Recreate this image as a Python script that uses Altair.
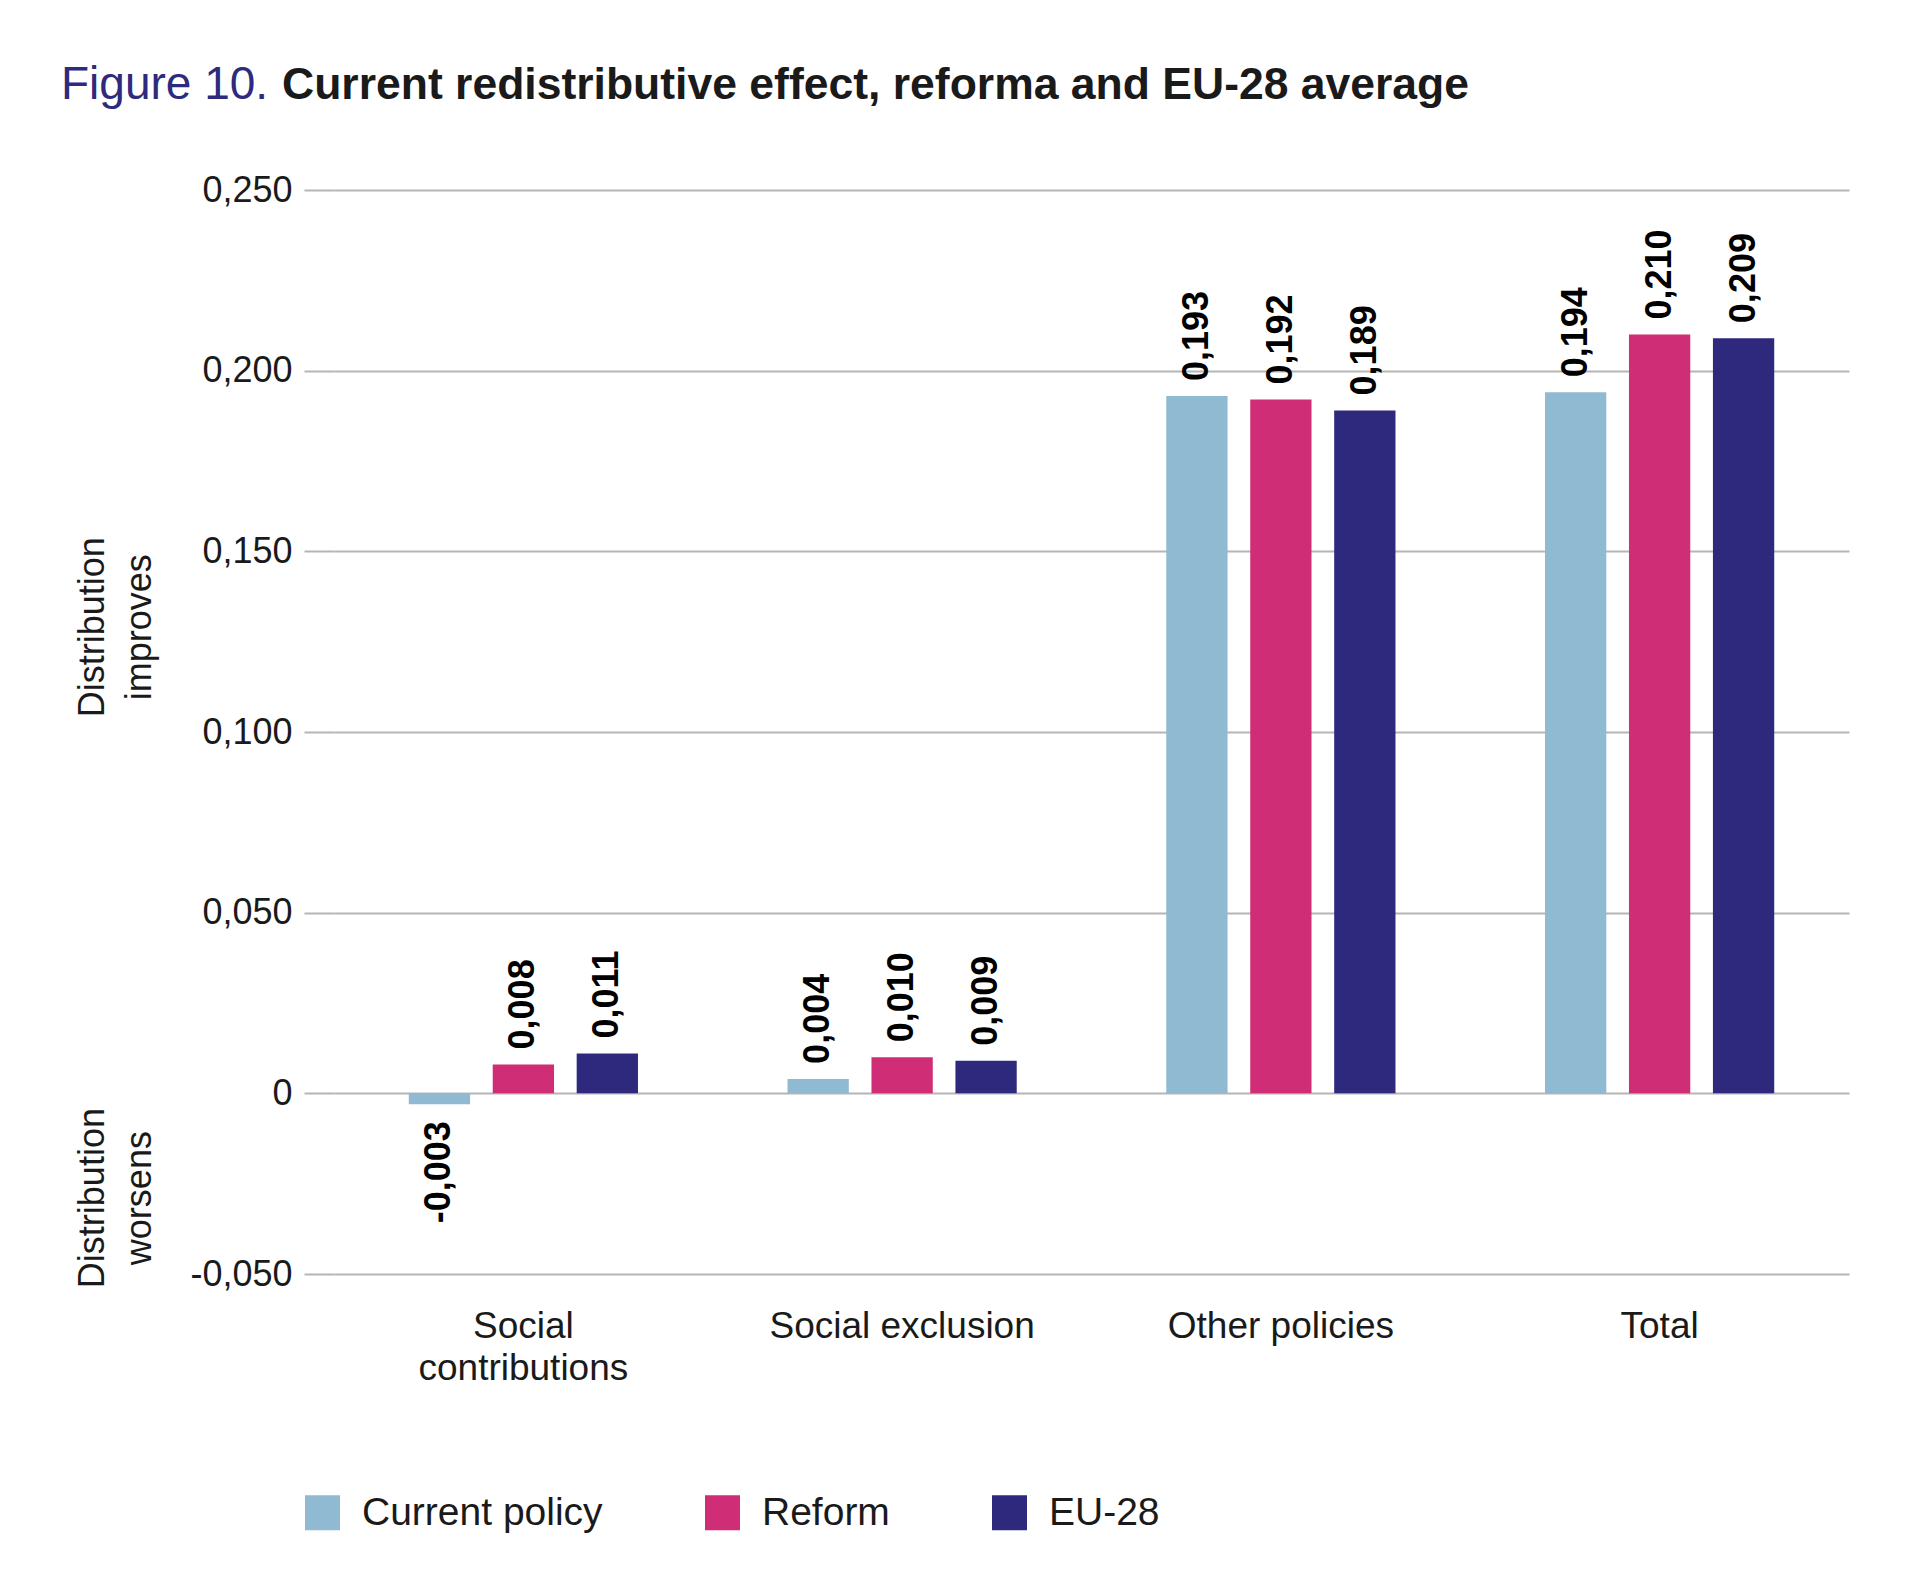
import altair as alt
import pandas as pd

categories = ["Social contributions", "Social exclusion", "Other policies", "Total"]
series = ["Current policy", "Reform", "EU-28"]
current_policy = [-0.003, 0.004, 0.193, 0.194]
reform = [0.008, 0.010, 0.192, 0.210]
eu28 = [0.011, 0.009, 0.189, 0.209]
colors = ["#8fbad1", "#cf2e76", "#2e297c"]
y_ticks = [-0.05, 0, 0.05, 0.10, 0.15, 0.20, 0.25]

side_texts = ["Distribution\nimproves", "Distribution\nworsens"]
side_y = [0.129, -0.029]

title_figure = "Figure 10."
title_main = "Current redistributive effect, reforma and EU-28 average"

FONT = "Liberation Sans"
GRID = "#b5b5b5"
INK = "#1a1a1a"

rows = []
for s, vals in zip(series, [current_policy, reform, eu28]):
    for c, v in zip(categories, vals):
        rows.append({"category": c, "series": s, "value": v})
df = pd.DataFrame(rows)

fmt = "(datum.value < 0 ? '-' : '') + replace(format(abs(datum.value), '.3f'), '.', ',')"

x_enc = alt.X("category:N", sort=categories,
              scale=alt.Scale(paddingInner=0.335, paddingOuter=0.1675),
              axis=alt.Axis(title=None, domain=False, ticks=False, labelAngle=0,
                            labelFontSize=37, labelPadding=34, labelLineHeight=42,
                            labelColor=INK, labelLimit=0, labelOverlap=False,
                            labelExpr="datum.label == 'Social contributions' ? ['Social', 'contributions'] : datum.label"))
xo_enc = alt.XOffset("series:N", sort=series,
                     scale=alt.Scale(paddingInner=0.27, paddingOuter=0.135))
y_enc = alt.Y("value:Q",
              scale=alt.Scale(domain=[-0.05, 0.25], nice=False, zero=False),
              axis=alt.Axis(title=None, values=y_ticks, domain=False, grid=True,
                            gridColor=GRID, gridWidth=2, tickColor=GRID, tickWidth=2,
                            tickSize=30, labelPadding=12, labelFontSize=36, labelColor=INK,
                            labelExpr="datum.value == 0 ? '0' : " + fmt))

bars = alt.Chart(df).mark_bar().encode(
    x=x_enc, xOffset=xo_enc, y=y_enc,
    color=alt.Color("series:N", sort=series,
                    scale=alt.Scale(domain=series, range=colors),
                    legend=alt.Legend(orient="none", legendX=-31, legendY=1303,
                                      direction="horizontal", title=None,
                                      symbolType="square", symbolSize=1225,
                                      symbolStrokeWidth=0, labelFontSize=39,
                                      labelOffset=20, columnPadding=100,
                                      labelColor=INK, labelLimit=0)))

label_base = alt.Chart(df).transform_calculate(label=fmt)
pos_labels = label_base.transform_filter("datum.value >= 0").mark_text(
    angle=270, align="left", baseline="middle", dx=15, fontSize=36,
    fontWeight="bold", color="black").encode(
    x=alt.X("category:N", sort=categories), xOffset=alt.XOffset("series:N", sort=series),
    y="value:Q", text="label:N")
neg_labels = label_base.transform_filter("datum.value < 0").mark_text(
    angle=270, align="right", baseline="middle", dx=-17, fontSize=36,
    fontWeight="bold", color="black").encode(
    x=alt.X("category:N", sort=categories), xOffset=alt.XOffset("series:N", sort=series),
    y="value:Q", text="label:N")

side = alt.Chart(pd.DataFrame({"text": side_texts, "value": side_y})).mark_text(
    angle=270, align="center", baseline="middle", lineBreak="\n", fontSize=36,
    lineHeight=47, color=INK).encode(
    x=alt.value(-241), y="value:Q", text="text:N")

fig_title = alt.Chart(pd.DataFrame({"text": [title_figure]})).mark_text(
    align="left", baseline="alphabetic", fontSize=46, color="#2e2a7d").encode(
    x=alt.value(-273), y=alt.value(-91), text="text:N")
main_title = alt.Chart(pd.DataFrame({"text": [title_main]})).mark_text(
    align="left", baseline="alphabetic", fontSize=44.5, fontWeight="bold", color=INK).encode(
    x=alt.value(-52), y=alt.value(-91), text="text:N")

chart = alt.layer(bars, pos_labels, neg_labels, side, fig_title, main_title).properties(
    width=1515, height=1084,
    autosize=alt.AutoSizeParams(type="none"),
    padding={"left": 326, "top": 182, "right": 60, "bottom": 270},
).configure(font=FONT).configure_view(stroke=None)

chart.save("out.html", embed_options={"renderer": "svg", "actions": False})
